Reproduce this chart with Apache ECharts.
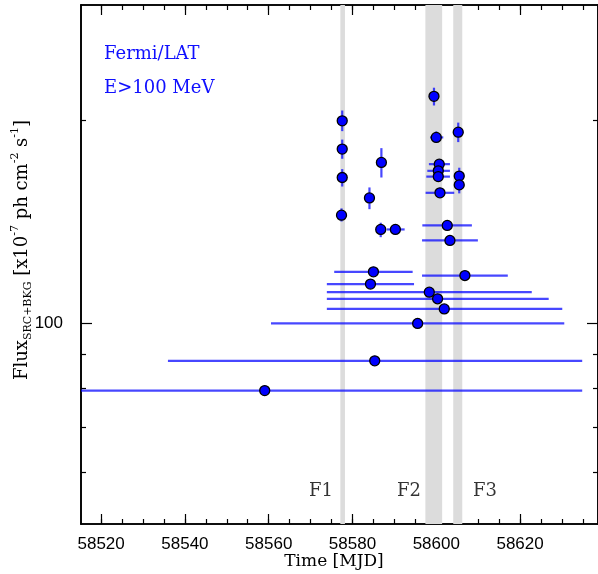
<!DOCTYPE html>
<html>
<head>
<meta charset="utf-8">
<script src="https://cdn.jsdelivr.net/npm/echarts@6/dist/echarts.min.js"></script>
<style>
  html, body { margin: 0; padding: 0; background: #fff; }
  #chart { width: 598px; height: 574px; }
</style>
</head>
<body>
<div id="chart"></div>
<script>
// Fermi/LAT light curve, E>100 MeV (flux in units of 1e-7 ph cm^-2 s^-1)
const mjd     = [58577.55, 58577.55, 58577.55, 58577.38, 58584.05, 58586.90, 58586.74, 58590.24,
                 58599.45, 58600.00, 58600.71, 58600.48, 58600.48, 58600.88, 58605.24, 58605.48,
                 58605.48, 58602.62, 58603.26, 58585.00, 58606.83, 58584.29, 58598.33, 58600.31,
                 58601.90, 58595.55, 58585.31, 58559.05];
const mjdLo   = [58577.55, 58577.55, 58577.55, 58576.67, 58584.05, 58586.90, 58586.74, 58588.17,
                 58599.45, 58598.50, 58598.24, 58597.86, 58597.62, 58597.45, 58605.24, 58605.00,
                 58604.50, 58596.67, 58596.60, 58575.64, 58596.60, 58573.88, 58573.88, 58573.88,
                 58573.88, 58560.55, 58535.95, 58500.00];
const mjdHi   = [58577.55, 58577.55, 58577.55, 58578.10, 58584.05, 58586.90, 58586.74, 58592.45,
                 58599.45, 58601.67, 58603.26, 58603.26, 58603.26, 58604.29, 58605.24, 58605.90,
                 58606.40, 58608.50, 58609.93, 58594.36, 58617.07, 58594.69, 58622.79, 58626.83,
                 58630.07, 58630.55, 58634.83, 58634.83];
const flux    = [199.8, 181.4, 164.6, 144.7, 153.5, 173.3, 137.8, 137.8,
                 217.3, 188.8, 172.3, 168.4, 165.1, 156.2, 192.2, 165.4,
                 160.5, 139.7, 132.7, 119.2, 117.7, 114.3, 111.2, 108.7,
                 105.0, 99.9, 87.9, 79.4];
const fluxLo  = [192.9, 175.5, 159.6, 141.6, 147.7, 164.6, 134.2, 137.8,
                 210.6, 185.6, 172.3, 168.4, 165.1, 156.2, 185.8, 160.7,
                 155.9, 139.7, 132.7, 119.2, 117.7, 114.3, 111.2, 108.7,
                 105.0, 99.9, 87.9, 79.4];
const fluxHi  = [207.0, 187.4, 169.4, 148.1, 159.1, 182.0, 141.0, 137.8,
                 223.8, 192.7, 172.3, 168.4, 165.1, 156.2, 198.6, 170.2,
                 165.2, 139.7, 132.7, 119.2, 117.7, 114.3, 111.2, 108.7,
                 105.0, 99.9, 87.9, 79.4];

// flare intervals F1, F2, F3 and where their names sit
const flareNames = ['F1', 'F2', 'F3'];
const flareStart = [58577.1, 58597.4, 58604.05];
const flareEnd   = [58578.2, 58601.4, 58606.2];
const flareLabelPos = [[58572.5, 56.2], [58593.5, 56.2], [58611.6, 56.2]];

// axis ticks
const xLabelTicks = [58520, 58540, 58560, 58580, 58600, 58620];
const xMinorTicks = [58520, 58525, 58530, 58535, 58540, 58545, 58550, 58555, 58560, 58565, 58570,
                     58575, 58580, 58585, 58590, 58595, 58600, 58605, 58610, 58615, 58620, 58625,
                     58630, 58635];
const yMajorTicks = [100];
const yMinorTicks = [60, 70, 80, 90, 200];

const X_MIN = 58515.2, X_MAX = 58638.6;
const Y_MIN = 50.3, Y_MAX = 297;

const chart = echarts.init(document.getElementById('chart'), null, { renderer: 'canvas' });

const points = mjd.map((t, i) => [t, flux[i], mjdLo[i], mjdHi[i], fluxLo[i], fluxHi[i]]);

const axisLine = { show: true, lineStyle: { color: '#000', width: 1.6 } };
const serif = 'DejaVu Serif';

function xAxisDef(pos, ticks, len, showLabel) {
  return {
    type: 'value', position: pos, min: X_MIN, max: X_MAX, gridIndex: 0,
    axisLine: axisLine,
    splitLine: { show: false },
    axisTick: { show: true, inside: true, length: len, customValues: ticks,
                lineStyle: { color: '#000', width: 1.2 } },
    axisLabel: showLabel ? {
      show: true, customValues: ticks, color: '#000', fontFamily: 'Liberation Sans',
      fontSize: 17, margin: 12, formatter: v => String(Math.round(v))
    } : { show: false }
  };
}
function yAxisDef(pos, ticks, len, showLabel) {
  return {
    type: 'log', position: pos, min: Y_MIN, max: Y_MAX, gridIndex: 0, logBase: 10,
    axisLine: axisLine,
    splitLine: { show: false },
    axisTick: { show: true, inside: true, length: len, customValues: ticks,
                lineStyle: { color: '#000', width: 1.2 } },
    axisLabel: showLabel ? {
      show: true, customValues: ticks, color: '#000', fontFamily: 'Liberation Sans',
      fontSize: 17, margin: 18, formatter: v => String(Math.round(v))
    } : { show: false }
  };
}

const option = {
  animation: false,
  backgroundColor: '#fff',
  grid: { left: 81, top: 5, width: 518, height: 519, containLabel: false },
  xAxis: [
    xAxisDef('bottom', xLabelTicks, 10, true),
    xAxisDef('bottom', xMinorTicks, 5, false),
    xAxisDef('top', xLabelTicks, 10, false),
    xAxisDef('top', xMinorTicks, 5, false)
  ],
  yAxis: [
    yAxisDef('left', yMajorTicks, 11, true),
    yAxisDef('left', yMinorTicks, 5, false),
    yAxisDef('right', yMajorTicks, 11, false),
    yAxisDef('right', yMinorTicks, 5, false)
  ],
  graphic: [
    { type: 'text', left: 104, top: 45, z: 100,
      style: { text: 'Fermi/LAT', fill: '#1010ff', font: '18px "DejaVu Serif"' } },
    { type: 'text', left: 104, top: 79, z: 100,
      style: { text: 'E>100 MeV', fill: '#1010ff', font: '18px "DejaVu Serif"' } },
    { type: 'text', x: 334, y: 562, z: 100,
      style: { text: 'Time [MJD]', fill: '#000', font: '17px "DejaVu Serif"',
               align: 'center', verticalAlign: 'middle' } },
    { type: 'text', x: 22, y: 250, rotation: Math.PI / 2, z: 100,
      style: {
        text: '{a|Flux}{s|SRC+BKG}{a| [x10}{p|-7}{a| ph cm}{p|-2}{a| s}{p|-1}{a|]}',
        align: 'center', verticalAlign: 'middle',
        rich: {
          a: { fontFamily: serif, fontSize: 18, fill: '#000', lineHeight: 24, verticalAlign: 'middle' },
          s: { fontFamily: serif, fontSize: 11, fill: '#000', lineHeight: 11, padding: [9, 0, 0, 0], verticalAlign: 'bottom' },
          p: { fontFamily: serif, fontSize: 11, fill: '#000', lineHeight: 11, padding: [0, 0, 10, 0], verticalAlign: 'top' }
        }
      } }
  ],
  series: [
    {
      // shaded flare windows
      type: 'line', xAxisIndex: 0, yAxisIndex: 0, data: [], silent: true, z: 1,
      markArea: {
        silent: true,
        itemStyle: { color: '#dcdcdc' },
        label: { show: false },
        data: flareStart.map((s, i) => [{ xAxis: s }, { xAxis: flareEnd[i] }])
      }
    },
    {
      // error bars
      type: 'custom', xAxisIndex: 0, yAxisIndex: 0, z: 3, clip: true,
      data: points,
      renderItem: function (params, api) {
        const t = api.value(0), f = api.value(1);
        const t0 = Math.max(api.value(2), X_MIN), t1 = Math.min(api.value(3), X_MAX);
        const f0 = api.value(4), f1 = api.value(5);
        const c = api.coord([t, f]);
        const a = api.coord([t0, f]), b = api.coord([t1, f]);
        const lo = api.coord([t, f0]), hi = api.coord([t, f1]);
        const style = { stroke: 'rgba(10,10,255,0.75)', lineWidth: 2.2 };
        const kids = [];
        if (b[0] - a[0] > 0.5) kids.push({ type: 'line', shape: { x1: a[0], y1: c[1], x2: b[0], y2: c[1] }, style });
        if (lo[1] - hi[1] > 0.5) kids.push({ type: 'line', shape: { x1: c[0], y1: lo[1], x2: c[0], y2: hi[1] }, style });
        return { type: 'group', children: kids };
      }
    },
    {
      type: 'scatter', xAxisIndex: 0, yAxisIndex: 0, z: 5,
      symbol: 'circle', symbolSize: 10,
      itemStyle: { color: '#0000ff', borderColor: '#000', borderWidth: 1.3, opacity: 1 },
      data: points.map(p => [p[0], p[1]])
    },
    {
      // flare names under the shaded windows
      type: 'scatter', xAxisIndex: 0, yAxisIndex: 0, z: 6, symbolSize: 1, silent: true,
      itemStyle: { color: 'rgba(0,0,0,0)' },
      data: flareLabelPos,
      label: {
        show: true, position: 'inside', color: '#000', fontFamily: serif, fontSize: 18,
        formatter: p => flareNames[p.dataIndex]
      }
    }
  ]
};

chart.setOption(option);
</script>
</body>
</html>
